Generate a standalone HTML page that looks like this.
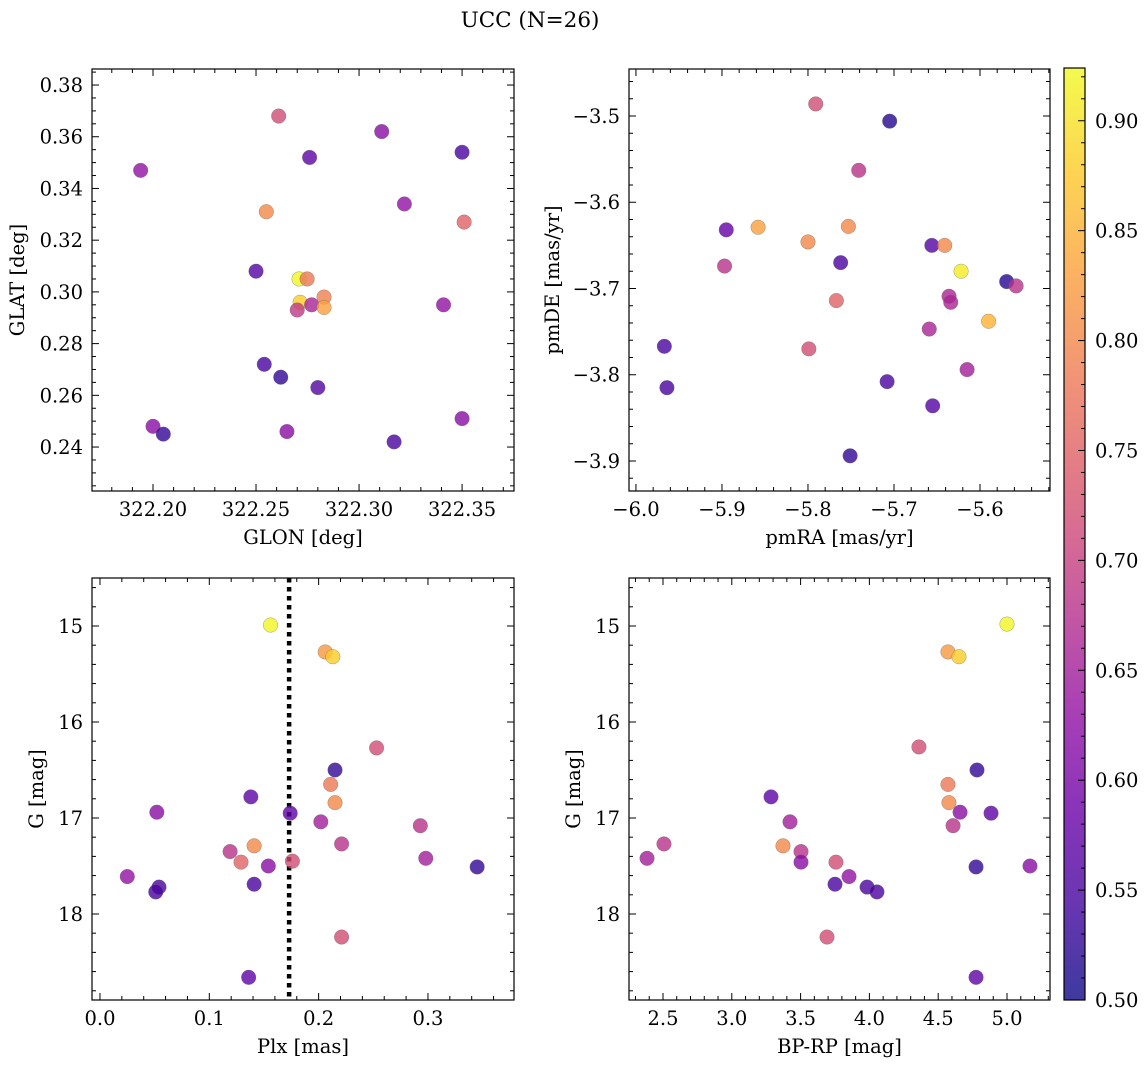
<!DOCTYPE html>
<html><head><meta charset="utf-8"><style>
body{margin:0;background:#fff}
svg text{font-family:"DejaVu Serif","Liberation Serif",serif;fill:#000}
</style></head><body>
<svg id="fig" width="1148" height="1068"></svg>
<script>
// ---- data ----
const p1Glon=[322.194,322.261,322.276,322.311,322.350,322.255,322.322,322.351,322.250,322.2709,322.2748,322.2714,322.283,322.277,322.270,322.283,322.341,322.254,322.262,322.280,322.200,322.205,322.265,322.317,322.350];
const p1Glat=[0.347,0.368,0.352,0.362,0.354,0.331,0.334,0.327,0.308,0.305,0.305,0.296,0.298,0.295,0.293,0.294,0.295,0.272,0.267,0.263,0.248,0.245,0.246,0.242,0.251];
const p1Prob=[0.63,0.72,0.57,0.62,0.55,0.80,0.63,0.75,0.56,0.92,0.78,0.88,0.79,0.66,0.69,0.83,0.63,0.55,0.53,0.56,0.62,0.53,0.62,0.55,0.62];
const p2Pmra=[-5.791,-5.705,-5.741,-5.895,-5.858,-5.800,-5.753,-5.656,-5.641,-5.622,-5.569,-5.558,-5.897,-5.762,-5.767,-5.636,-5.634,-5.590,-5.659,-5.967,-5.799,-5.964,-5.708,-5.615,-5.655,-5.751];
const p2Pmde=[-3.486,-3.506,-3.563,-3.632,-3.629,-3.646,-3.628,-3.650,-3.650,-3.680,-3.692,-3.697,-3.674,-3.670,-3.714,-3.709,-3.716,-3.738,-3.747,-3.767,-3.770,-3.815,-3.808,-3.794,-3.836,-3.894];
const p2Prob=[0.72,0.52,0.68,0.58,0.83,0.80,0.80,0.56,0.80,0.91,0.52,0.68,0.68,0.55,0.75,0.66,0.66,0.85,0.66,0.55,0.72,0.55,0.55,0.65,0.56,0.53];
const p3Plx=[0.156,0.206,0.213,0.253,0.215,0.211,0.215,0.138,0.052,0.174,0.202,0.293,0.141,0.119,0.129,0.154,0.176,0.221,0.298,0.345,0.025,0.141,0.054,0.051,0.221,0.136];
const p3G=[14.99,15.27,15.32,16.27,16.50,16.65,16.84,16.78,16.94,16.95,17.04,17.08,17.29,17.35,17.46,17.50,17.45,17.27,17.42,17.51,17.61,17.69,17.72,17.77,18.24,18.66];
const p3Prob=[0.92,0.82,0.88,0.72,0.53,0.78,0.80,0.57,0.62,0.57,0.65,0.68,0.80,0.68,0.75,0.62,0.72,0.68,0.65,0.53,0.63,0.55,0.55,0.55,0.72,0.57];
const plxLine=0.173;
const p4Bprp=[5.0,4.571,4.651,4.360,4.782,4.571,4.578,3.285,4.659,4.884,3.423,4.608,3.372,2.507,2.384,3.503,3.503,3.757,5.167,4.775,3.852,3.750,3.983,4.055,3.692,4.775];
const p4G=[14.98,15.27,15.32,16.26,16.50,16.65,16.84,16.78,16.94,16.95,17.04,17.08,17.29,17.27,17.42,17.35,17.46,17.46,17.50,17.51,17.61,17.69,17.72,17.77,18.24,18.66];
const p4Prob=[0.92,0.82,0.88,0.72,0.53,0.78,0.80,0.57,0.62,0.57,0.65,0.68,0.80,0.68,0.65,0.68,0.62,0.72,0.62,0.53,0.63,0.55,0.55,0.55,0.72,0.57];
const cbTicks=[0.50,0.55,0.60,0.65,0.70,0.75,0.80,0.85,0.90];
const vmin=0.5,vmax=0.924;

const NS="http://www.w3.org/2000/svg";
const svg=document.getElementById('fig');
const TF=19.5, LF=19.5;
function el(tag,attrs,parent){const e=document.createElementNS(NS,tag);for(const k in attrs)e.setAttribute(k,attrs[k]);(parent||svg).appendChild(e);return e;}
const stops=[[13,8,135],[65,4,157],[106,0,168],[143,13,164],[177,42,144],[204,71,120],[225,100,98],[242,132,75],[252,166,54],[252,206,37],[240,249,33]];
function plasma(t){t=Math.max(0,Math.min(1,t));const f=t*10,i=Math.min(9,Math.floor(f)),r=f-i;const a=stops[i],b=stops[i+1];
 return `rgb(${Math.round(a[0]+(b[0]-a[0])*r)},${Math.round(a[1]+(b[1]-a[1])*r)},${Math.round(a[2]+(b[2]-a[2])*r)})`;}
function fmt(v,d){return (v<0?'−':'')+Math.abs(v).toFixed(d);}

function panel(o){
 const g=el('g',{});
 
 
 const sx=v=>o.L+(v-o.x0)/(o.x1-o.x0)*(o.R-o.L);
 const sy=v=>o.B-(v-o.y0)/(o.y1-o.y0)*(o.B-o.T);
 if(o.vline!==undefined){const l=el('line',{x1:sx(o.vline),x2:sx(o.vline),y1:o.T,y2:o.B,stroke:'#000','stroke-width':4.5,'stroke-dasharray':'4.5,4.5'},g);
  }
 for(let i=0;i<o.xs.length;i++){
  const c=el('circle',{cx:sx(o.xs[i]),cy:sy(o.ys[i]),r:7.3,fill:plasma((o.ps[i]-vmin)/(vmax-vmin)),'fill-opacity':0.8,stroke:'#666','stroke-width':0.5,'stroke-opacity':0.6},g);
  
  
 }
 const lo=Math.min(o.x0,o.x1),hi=Math.max(o.x0,o.x1);
 for(let k=Math.ceil(lo/o.xmin-1e-6);k*o.xmin<=hi+1e-9;k++){const v=k*o.xmin,x=sx(v);
  const major=Math.abs(v/o.xmaj-Math.round(v/o.xmaj))<1e-6;const len=major?7:4;
  el('line',{x1:x,x2:x,y1:o.B,y2:o.B-len,stroke:'#000','stroke-width':1},g);
  el('line',{x1:x,x2:x,y1:o.T,y2:o.T+len,stroke:'#000','stroke-width':1},g);
  if(major){const t=el('text',{x:x,y:o.B+25,'text-anchor':'middle','font-size':TF},g);t.textContent=fmt(v,o.xd);
   }}
 const ylo=Math.min(o.y0,o.y1),yhi=Math.max(o.y0,o.y1);
 for(let k=Math.ceil(ylo/o.ymin-1e-6);k*o.ymin<=yhi+1e-9;k++){const v=k*o.ymin,y=sy(v);
  const major=Math.abs(v/o.ymaj-Math.round(v/o.ymaj))<1e-6;const len=major?7:4;
  el('line',{x1:o.L,x2:o.L+len,y1:y,y2:y,stroke:'#000','stroke-width':1},g);
  el('line',{x1:o.R,x2:o.R-len,y1:y,y2:y,stroke:'#000','stroke-width':1},g);
  if(major){const t=el('text',{x:o.L-9,y:y+7,'text-anchor':'end','font-size':TF},g);t.textContent=fmt(v,o.yd);
   }}
 el('rect',{x:o.L,y:o.T,width:o.R-o.L,height:o.B-o.T,fill:'none',stroke:'#000','stroke-width':1.2},g);
 const xl=el('text',{x:(o.L+o.R)/2,y:o.B+53,'text-anchor':'middle','font-size':LF},g);xl.textContent=o.xlab;
 
 const yl=el('text',{x:0,y:0,'text-anchor':'middle','font-size':LF,transform:`translate(${o.ylx},${(o.T+o.B)/2}) rotate(-90)`},g);yl.textContent=o.ylab;
 
}

panel({name:'glon-glat-panel',L:92,R:514,T:69,B:491,x0:322.1704,x1:322.3752,y0:0.2230,y1:0.3862,xs:p1Glon,ys:p1Glat,ps:p1Prob,
 xmaj:0.05,xmin:0.01,xd:2,ymaj:0.02,ymin:0.005,yd:2,xlab:'GLON [deg]',ylab:'GLAT [deg]',ylx:24});
panel({name:'pm-panel',L:629,R:1050,T:69,B:491,x0:-6.0081,x1:-5.5186,y0:-3.9348,y1:-3.4455,xs:p2Pmra,ys:p2Pmde,ps:p2Prob,
 xmaj:0.1,xmin:0.02,xd:1,ymaj:0.1,ymin:0.02,yd:1,xlab:'pmRA [mas/yr]',ylab:'pmDE [mas/yr]',ylx:559});
panel({name:'plx-g-panel',L:92,R:514,T:578,B:1000,x0:-0.0073,x1:0.3787,y0:18.896,y1:14.5,xs:p3Plx,ys:p3G,ps:p3Prob,vline:plxLine,
 xmaj:0.1,xmin:0.02,xd:1,ymaj:1,ymin:0.2,yd:0,xlab:'Plx [mas]',ylab:'G [mag]',ylx:43});
panel({name:'cmd-panel',L:629,R:1050,T:578,B:1000,x0:2.253,x1:5.3125,y0:18.896,y1:14.5,xs:p4Bprp,ys:p4G,ps:p4Prob,
 xmaj:0.5,xmin:0.1,xd:1,ymaj:1,ymin:0.2,yd:0,xlab:'BP-RP [mag]',ylab:'G [mag]',ylx:580});

const cb=el('g',{});


const cT=68,cB=1000,cL=1064,cR=1085;
const defs=el('defs',{},cb);const lg=el('linearGradient',{id:'cbg',x1:0,y1:1,x2:0,y2:0},defs);
for(let i=0;i<=20;i++){el('stop',{offset:i/20,'stop-color':plasma(i/20),'stop-opacity':0.8},lg);}
el('rect',{x:cL,y:cT,width:cR-cL,height:cB-cT,fill:'url(#cbg)',stroke:'#000','stroke-width':1.2},cb);
const cy=v=>cB-(v-vmin)/(vmax-vmin)*(cB-cT);
for(let k=50;k<=92;k++){const v=k/100,y=cy(v);const major=k%5===0;
 el('line',{x1:cR,x2:cR-(major?7:4),y1:y,y2:y,stroke:'#000','stroke-width':1},cb);}
for(const v of cbTicks){const y=cy(v);const t=el('text',{x:cR+10,y:y+7,'font-size':TF},cb);t.textContent=v.toFixed(2);
 }

const title=el('text',{x:530,y:27,'text-anchor':'middle','font-size':21.5});title.textContent='UCC (N=26)';


</script>
</body></html>
